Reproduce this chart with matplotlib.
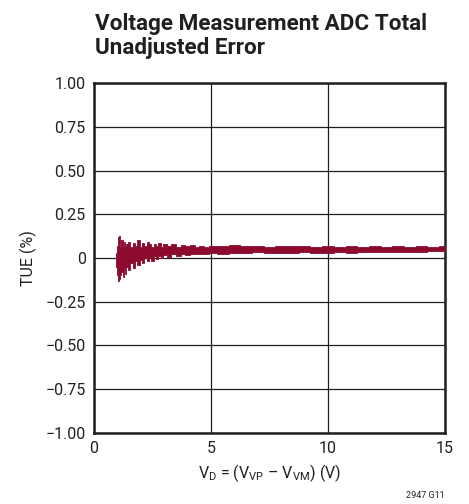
import matplotlib
matplotlib.use("Agg")
import matplotlib.pyplot as plt

plt.rcParams['font.family'] = ['Roboto', 'DejaVu Sans']
plt.rcParams['mathtext.fontset'] = 'custom'
plt.rcParams['mathtext.rm'] = 'Roboto'

# TUE band: upper and lower edge of the trace (%)
vd = [0.95, 1.0, 1.05, 1.1, 1.15, 1.2, 1.25, 1.3, 1.35, 1.4, 1.5, 1.6, 1.7, 1.8,
      1.9, 2.0, 2.1, 2.2, 2.3, 2.4, 2.5, 2.6, 2.7, 2.8, 2.9, 3.0, 3.2, 3.4, 3.6,
      3.8, 4.0, 4.2, 4.4, 4.6, 4.8, 5.0, 5.5, 6.0, 6.5, 7.0, 7.5, 8.0, 8.5, 9.0,
      9.5, 10.0, 10.5, 11.0, 11.5, 12.0, 12.5, 13.0, 13.5, 14.0, 14.5, 15.0]
tue_hi = [0.03, 0.07, 0.12, 0.125, 0.06, 0.10, 0.07, 0.09, 0.06, 0.08, 0.09, 0.06,
          0.085, 0.07, 0.10, 0.065, 0.085, 0.07, 0.09, 0.08, 0.065, 0.08, 0.07,
          0.085, 0.065, 0.08, 0.07, 0.08, 0.065, 0.075, 0.07, 0.075, 0.065, 0.07,
          0.065, 0.07, 0.068, 0.072, 0.066, 0.07, 0.065, 0.069, 0.066, 0.07,
          0.065, 0.069, 0.064, 0.068, 0.065, 0.067, 0.063, 0.067, 0.064, 0.066,
          0.063, 0.066]
tue_lo = [-0.05, -0.10, -0.13, -0.12, -0.10, -0.08, -0.11, -0.06, -0.09, -0.05,
          -0.07, -0.03, -0.06, -0.02, -0.04, -0.01, -0.03, 0.0, -0.02, 0.005,
          -0.015, 0.01, -0.005, 0.01, 0.0, 0.015, 0.005, 0.02, 0.01, 0.02, 0.015,
          0.025, 0.02, 0.025, 0.02, 0.03, 0.025, 0.03, 0.028, 0.032, 0.027, 0.031,
          0.029, 0.033, 0.028, 0.03, 0.033, 0.031, 0.035, 0.033, 0.036, 0.034,
          0.037, 0.035, 0.038, 0.038]

xticks = [0, 5, 10, 15]
yticks = [-1.0, -0.75, -0.5, -0.25, 0, 0.25, 0.5, 0.75, 1.0]
ytick_labels = ['\u22121.00', '\u22120.75', '\u22120.50', '\u22120.25', '0',
                '0.25', '0.50', '0.75', '1.00']

fig = plt.figure(figsize=(4.69, 5.04), dpi=100)
ax = fig.add_axes([0.2004, 0.1409, 0.7484, 0.6944])

ax.fill_between(vd, tue_lo, tue_hi, step='mid', color='#8c0a2e', lw=0.6,
                edgecolor='#8c0a2e', zorder=3)

ax.set_xlim(0, 15)
ax.set_ylim(-1, 1)
ax.set_xticks(xticks)
ax.set_yticks(yticks)
ax.set_yticklabels(ytick_labels)
ax.tick_params(length=0, labelsize=11.5, colors='#231f20', pad=6)
ax.grid(True, color='#231f20', lw=0.9)
for s in ax.spines.values():
    s.set_linewidth(1.8)
    s.set_color('#231f20')

ax.set_ylabel('TUE (%)', fontsize=11.5, color='#231f20', labelpad=6)
ax.set_xlabel('V$_\\mathrm{D}$ = (V$_\\mathrm{VP}$ \u2013 V$_\\mathrm{VM}$) (V)',
              fontsize=11.5, color='#231f20', labelpad=4)

fig.text(0.2026, 0.974, 'Voltage Measurement ADC Total\nUnadjusted Error', fontsize=16.2,
         fontweight='bold', color='#231f20', ha='left', va='top', linespacing=1.12)
fig.text(0.949, 0.008, '2947 G11', fontsize=6.5, color='#231f20', ha='right', va='bottom')

fig.savefig('out.png', dpi=100)
